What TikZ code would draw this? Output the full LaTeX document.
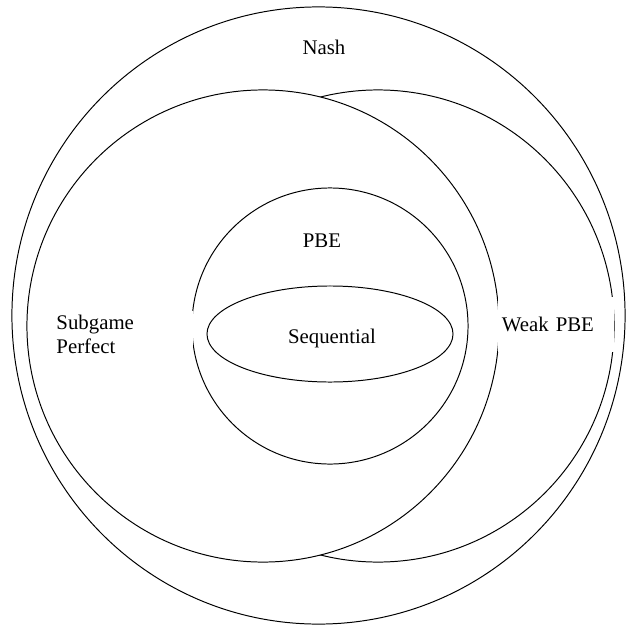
\documentclass[tikz,border=0pt]{standalone}
\usepackage{fontspec}
\setmainfont{Liberation Serif}
\usetikzlibrary{shapes.geometric}

\begin{document}
\begin{tikzpicture}[x=0.025cm, y=-0.025cm, line width=0.7pt,
		every node/.style={font=\fontsize{14.8}{17}\selectfont},
		set/.style={draw,circle,inner sep=0pt,minimum size=11.8cm},
		lbl/.style={fill=white,inner sep=0.1cm,align=left}]
		\useasboundingbox (0,0) rectangle (626,625);
		% the sets
		\node[draw,ellipse,inner sep=0pt,minimum width=15.325cm,minimum height=15.425cm] (nash)at(318.5,315.5) {};
		\node[set] (weak)at(378,326) {};
		\node[set,fill=white] (spe)at(263,326) {};
		\node[draw,circle,inner sep=0pt,minimum size=6.9cm] (pbe)at(330,326) {};
		\node[draw,ellipse,inner sep=0pt,minimum width=6.15cm,minimum height=2.4cm] (seq)at(330,334) {};
		% the labels
		\node (nashL)at(324,47) {Nash};
		\node (pbeL)at(322,241) {PBE};
		\node (seqL)at(332,338) {Sequential};
		\node[lbl,anchor=east,text width=3.3cm] (speL)at(193,334) {Subgame\\Perfect};
		\node[lbl,text width=2.7cm,minimum height=1.375cm] (weakL)at(556,324.5) {Weak PBE};
		\end{tikzpicture}
\end{document}
